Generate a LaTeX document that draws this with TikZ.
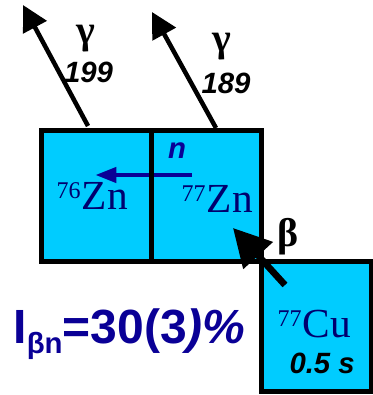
\documentclass[tikz,border=0pt]{standalone}
\usepackage{fontspec}
\setmainfont{Liberation Serif}
\newfontfamily\arialfont{Liberation Sans}
\usetikzlibrary{arrows.meta,calc}

\definecolor{nucfill}{RGB}{0,204,255}
\definecolor{nucnavy}{RGB}{0,0,110}
\definecolor{labnavy}{RGB}{10,0,150}

\newcommand\nuclide[2]{\raisebox{8.25pt}{\fontsize{18}{18}\selectfont #1}\kern1pt#2}

\tikzset{every picture/.style={line width=0.75pt}}
\tikzset{
	nucbox/.style={draw=black,fill=nucfill,line width=3.75pt,minimum width=82.5pt,minimum height=97.5pt,inner sep=0pt,outer sep=0pt},
	gammaarrow/.style={line width=3.4pt,-{Triangle[length=19pt,width=19.5pt]}},
	betaarrow/.style={line width=5pt,-{Triangle[length=28pt,width=29pt]}},
	narrow/.style={draw=labnavy,line width=3.6pt,-{Triangle[length=16pt,width=11pt]}},
	greeklab/.style={inner sep=0pt,font=\bfseries\fontsize{30}{30}\selectfont},
	numlab/.style={inner sep=0pt,font=\arialfont\bfseries\itshape\fontsize{22}{22}\selectfont},
	nuclab/.style={inner sep=0pt,anchor=base west,text=nucnavy,font=\fontsize{31}{31}\selectfont},
}

\begin{document}
\begin{tikzpicture}[x=0.75pt,y=0.75pt,yscale=-1,xscale=1]
	\useasboundingbox (0,0) rectangle (372,395);
	
	%Shape: Rectangle [zn76]
	\node [nucbox] (zn76) at (96,196) {};
	%Shape: Rectangle [zn77]
	\node [nucbox] (zn77) at (206,196) {};
	%Shape: Rectangle [cu77]
	\node [nucbox] (cu77) at (316,326) {};
	
	%Straight Lines [neutron]
	\draw [narrow] ($(zn77.west)+(41,-21)$) -- ($(zn76.west)+(54,-21)$) ;
	%Straight Lines [middle edge]
	\draw [line width=3.75pt] (zn76.north east) -- (zn76.south east) ;
	
	%Straight Lines [gamma 199]
	\coordinate (g199) at (23,5);
	\draw [gammaarrow] ($(zn76.north west)+(47,-5)$) -- (g199) ;
	%Straight Lines [gamma 189]
	\coordinate (g189) at (152,12);
	\draw [gammaarrow] ($(zn77.north west)+(65,-3)$) -- (g189) ;
	%Straight Lines [beta]
	\coordinate (bend) at (233,228);
	\draw [betaarrow] ($(cu77.north west)+(24,24)$) -- (bend) ;
	
	% Text Node
	\node [greeklab] (gam199) at (86,38.5) {γ};
	% Text Node
	\node [numlab] (e199) at (88.5,72.5) {199};
	% Text Node
	\node [greeklab] (gam189) at (222,46.5) {γ};
	% Text Node
	\node [numlab] (e189) at (226,83) {189};
	% Text Node
	\node [inner sep=0pt,text=labnavy,font=\arialfont\bfseries\itshape\fontsize{22}{22}\selectfont] (nlab) at (177,150.5) {n};
	% Text Node
	\node [nuclab] (lab76) at (56,209) {\nuclide{76}{Zn}};
	% Text Node
	\node [nuclab] (lab77) at (181,212) {\nuclide{77}{Zn}};
	% Text Node
	\node [nuclab] (labcu) at (277,337) {\nuclide{77}{Cu}};
	% Text Node
	\node [numlab,anchor=base west,font=\arialfont\bfseries\itshape\fontsize{22}{22}\selectfont] (tcu) at (289,373) {0.5 s};
	% Text Node
	\node [greeklab] (betalab) at (288.5,236.5) {β};
	% Text Node
	\node [inner sep=0pt,anchor=base west,text=labnavy,font=\arialfont\bfseries\fontsize{36}{36}\selectfont] (ibn) at (13,343) {I\raisebox{-8pt}{\fontsize{22}{22}\selectfont βn}=30(3\textit{)\%}};
	
\end{tikzpicture}
\end{document}
